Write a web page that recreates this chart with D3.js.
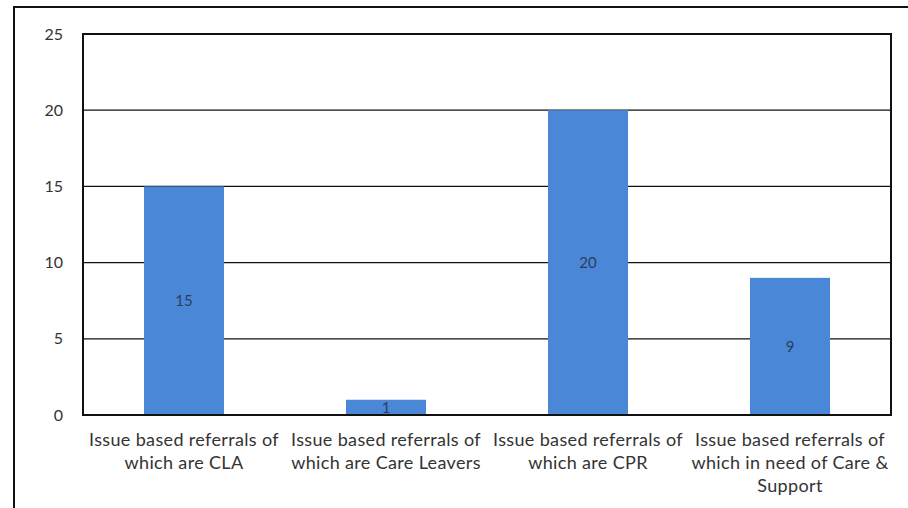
<!DOCTYPE html>
<html>
<head>
<meta charset="utf-8">
<script src="https://cdn.jsdelivr.net/npm/d3@7"></script>
<style>
  body { margin: 0; background: #fff; }
  svg { display: block; font-family: Lato, "Open Sans", sans-serif; }
</style>
</head>
<body>
<main></main>
<script>
const width = 908;
const height = 508;
const margin = {top: 34, bottom: 93, left: 83, right: 17};

const categories = [
    ["Issue based referrals of", "which are CLA"],
    ["Issue based referrals of", "which are Care Leavers"],
    ["Issue based referrals of", "which are CPR"],
    ["Issue based referrals of", "which in need of Care &", "Support"]
];
const values = [15, 1, 20, 9];
const yTicks = [0, 5, 10, 15, 20, 25];

const svg = d3.select("main")
    .append("svg")
        .attr("width", width)
        .attr("height", height);

// outer frame
svg.append("path")
    .attr("d", `M14,${height} V7 H${width}`)
    .attr("fill", "none")
    .attr("stroke", "#111")
    .attr("stroke-width", 2);

const x = d3.scaleBand()
    .domain(d3.range(categories.length))
    .range([margin.left, width - margin.right])
    .paddingInner(0.604)
    .paddingOuter(0.302);
const y = d3.scaleLinear()
    .domain([0, 25])
    .range([height - margin.bottom, margin.top]);

// gridlines
svg.append("g")
    .selectAll("line")
    .data(yTicks.slice(1, -1))
    .join("line")
        .attr("x1", margin.left)
        .attr("x2", width - margin.right)
        .attr("y1", d => y(d))
        .attr("y2", d => y(d))
        .attr("stroke", "#111")
        .attr("stroke-width", 1.2);

// bars
svg.append("g")
    .selectAll("rect")
    .data(values)
    .join("rect")
        .attr("x", (d, i) => x(i))
        .attr("y", d => y(d))
        .attr("width", x.bandwidth())
        .attr("height", d => y(0) - y(d))
        .attr("fill", "#4a87d6");

// value labels
svg.append("g")
    .selectAll("text")
    .data(values)
    .join("text")
        .attr("x", (d, i) => x(i) + x.bandwidth() / 2)
        .attr("y", d => (y(d) + y(0)) / 2)
        .attr("dy", "0.35em")
        .attr("text-anchor", "middle")
        .attr("font-size", 15)
        .attr("fill", "#2b3f5c")
        .text(d => d);

// plot frame
svg.append("rect")
    .attr("x", margin.left)
    .attr("y", margin.top)
    .attr("width", width - margin.right - margin.left)
    .attr("height", height - margin.bottom - margin.top)
    .attr("fill", "none")
    .attr("stroke", "#111")
    .attr("stroke-width", 2);

// y tick labels
svg.append("g")
    .selectAll("text")
    .data(yTicks)
    .join("text")
        .attr("x", 63)
        .attr("y", d => y(d))
        .attr("dy", "0.35em")
        .attr("text-anchor", "end")
        .attr("font-size", 16)
        .attr("fill", "#333")
        .text(d => d);

// category labels
const cat = svg.append("g")
    .selectAll("text")
    .data(categories)
    .join("text")
        .attr("x", (d, i) => x(i) + x.bandwidth() / 2)
        .attr("y", 446)
        .attr("text-anchor", "middle")
        .attr("font-size", 18)
        .attr("letter-spacing", 0.35)
        .attr("fill", "#333");
cat.selectAll("tspan")
    .data(d => d)
    .join("tspan")
        .attr("x", function() { return this.parentNode.getAttribute("x"); })
        .attr("dy", (d, i) => i === 0 ? 0 : 23)
        .text(d => d);
</script>
</body>
</html>
